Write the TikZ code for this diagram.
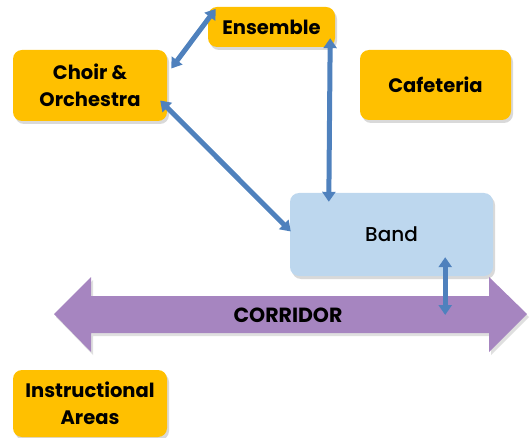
\documentclass[tikz,border=0pt]{standalone}
\usepackage{fontspec}
\setmainfont{Poppins}
\newfontfamily\midfont{Poppins Medium}
\usepackage{tikz}
\usetikzlibrary{arrows.meta,positioning,calc,shadows}
\definecolor{roomC}{RGB}{255,192,0}
\definecolor{bandC}{RGB}{189,215,238}
\definecolor{hallC}{RGB}{166,133,192}
\definecolor{linkC}{RGB}{79,129,189}

\begin{document}
\begin{tikzpicture}[x=1pt,y=-1pt,
  room/.style={fill=roomC,rounded corners=9pt,align=center,
    font=\fontsize{19.5}{27}\selectfont\bfseries,
    drop shadow={opacity=0.3,shadow xshift=2pt,shadow yshift=-3pt}},
  link/.style={linkC,line width=5pt,{Triangle[width=13pt,length=10pt]}-{Triangle[width=13pt,length=10pt]}}]
  \useasboundingbox (0,0) rectangle (532,438);
  % rooms
  \node[room,minimum width=127pt,minimum height=40pt] (ensemble) at (271.5,27) {Ensemble};
  \node[room,minimum width=154pt,minimum height=71pt] (choir) at (90,85.5) {Choir \&\\Orchestra};
  \node[room,minimum width=151pt,minimum height=70pt] (cafeteria) at (435.5,85) {Cafeteria};
  \node[room,fill=bandC,minimum width=203pt,minimum height=83pt,font=\fontsize{20}{27}\midfont] (band) at (391.5,234.5) {Band};
  \node[room,minimum width=154pt,minimum height=67pt] (instr) at (90,403.5) {Instructional\\Areas};
  % corridor
  \fill[hallC,drop shadow={opacity=0.25,shadow xshift=2pt,shadow yshift=-3pt}]
    (54,314) -- (91,277) -- (91,296) -- (489,296) -- (489,277) -- (527,314)
    -- (489,352) -- (489,333) -- (91,333) -- (91,352) -- cycle;
  \node[font=\fontsize{20.5}{24}\selectfont\bfseries] (corridor) at (288,315) {CORRIDOR};
  % links
  \draw[link] ($(choir.east)+(4,-17)$) -- ($(ensemble.north west)+(8,2)$);
  \draw[link] ($(ensemble.south east)+(-5,-9)$) -- ($(band.north west)+(39,9)$);
  \draw[link] ($(choir.east)+(-7,15)$) -- ($(band.west)+(1,-3)$);
  \coordinate (bc) at ($(band.south east)+(-48,-19)$);
  \draw[link] (bc) -- (bc |- corridor.center);
\end{tikzpicture}
\end{document}
